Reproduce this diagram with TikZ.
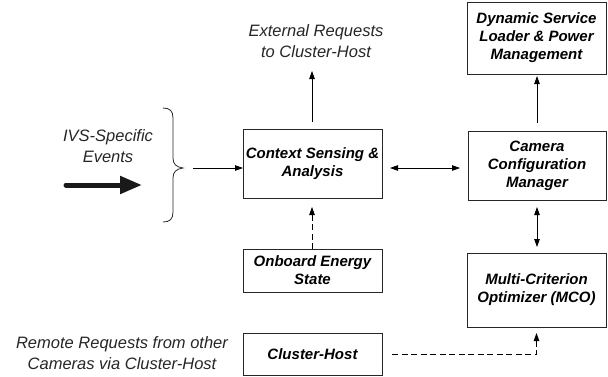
\documentclass[tikz,border=0pt]{standalone}
\usepackage{fontspec}
\setmainfont{Liberation Sans}
\usetikzlibrary{arrows.meta}
\tikzset{
  blk/.style={draw=black!85, line width=1pt, inner sep=0pt, outer sep=0pt,
    align=center, font=\fontsize{15}{18}\selectfont\bfseries\itshape},
  lbl/.style={align=center, inner sep=0pt, text=black!85,
    font=\fontsize{16.5}{20.5}\selectfont\itshape},
  con/.style={line width=0.8pt, -{Triangle[length=8pt,width=5.5pt]}},
  bicon/.style={line width=0.8pt, {Triangle[length=8pt,width=5.5pt]}-{Triangle[length=8pt,width=5.5pt]}},
  dcon/.style={con, dash pattern=on 6pt off 3.5pt},
}
\begin{document}
\begin{tikzpicture}[x=1pt,y=-1pt]
\useasboundingbox (0,0) rectangle (608,376);

% blocks
\node[blk, minimum width=139pt, minimum height=69pt] (ctx) at (312.5,163.5) {Context Sensing \&\\Analysis};
\node[blk, minimum width=138pt, minimum height=69pt] (cam) at (537,165.5) {Camera\\Configuration\\Manager};
\node[blk, minimum width=139pt, minimum height=72pt] (dyn) at (536.5,38) {Dynamic Service\\Loader \& Power\\Management};
\node[blk, minimum width=139pt, minimum height=43pt] (onb) at (312.5,270.5) {Onboard Energy\\State};
\node[blk, minimum width=139pt, minimum height=74pt] (mco) at (536.5,290) {Multi-Criterion\\Optimizer (MCO)};
\node[blk, minimum width=139pt, minimum height=42pt] (clh) at (312.5,354) {Cluster-Host};

% free labels
\node[lbl] (ext) at (316,41) {External Requests\\to Cluster-Host};
\node[lbl] (ivs) at (108,146) {IVS-Specific\\Events};
\node[lbl] (rem) at (122,353) {Remote Requests from other\\Cameras via Cluster-Host};

% helper points
\coordinate (exttip) at (312,71);
\coordinate (evin) at (193,168);
\coordinate (hmid) at (425,168);
\coordinate (thA) at (66,185);
\coordinate (thB) at (142,185);

% brace gathering the events
\draw[line width=0.8pt, black!85] (163,108) .. controls (170,108) and (173,111) .. (173,118)
  -- (173,158) .. controls (173,164) and (176,167) .. (183,168)
  .. controls (176,169) and (173,172) .. (173,178)
  -- (173,212) .. controls (173,219) and (170,222) .. (163,222);

% thick input arrow
\draw[line width=5pt, line cap=round, black!90, -{Triangle[length=22pt,width=17pt]}] (thA) -- (thB);

% connectors
\draw[con] (evin) -- (evin -| ctx.west);
\draw[con, shorten <=7pt] (ctx.north -| exttip) -- (exttip);
\draw[bicon, shorten <=8pt, shorten >=8pt] (hmid -| ctx.east) -- (hmid -| cam.west);
\draw[con, shorten <=8pt, shorten >=2pt] (cam.north) -- (cam.north |- dyn.south);
\draw[bicon, shorten <=7pt, shorten >=6pt] (cam.south) -- (cam.south |- mco.north);
\draw[dcon, shorten >=9pt] (onb.north -| exttip) -- (ctx.south -| exttip);
\draw[dcon, shorten <=10pt, shorten >=6pt] (clh.east) -- (clh.east -| mco.south) -- (mco.south);
\end{tikzpicture}
\end{document}
